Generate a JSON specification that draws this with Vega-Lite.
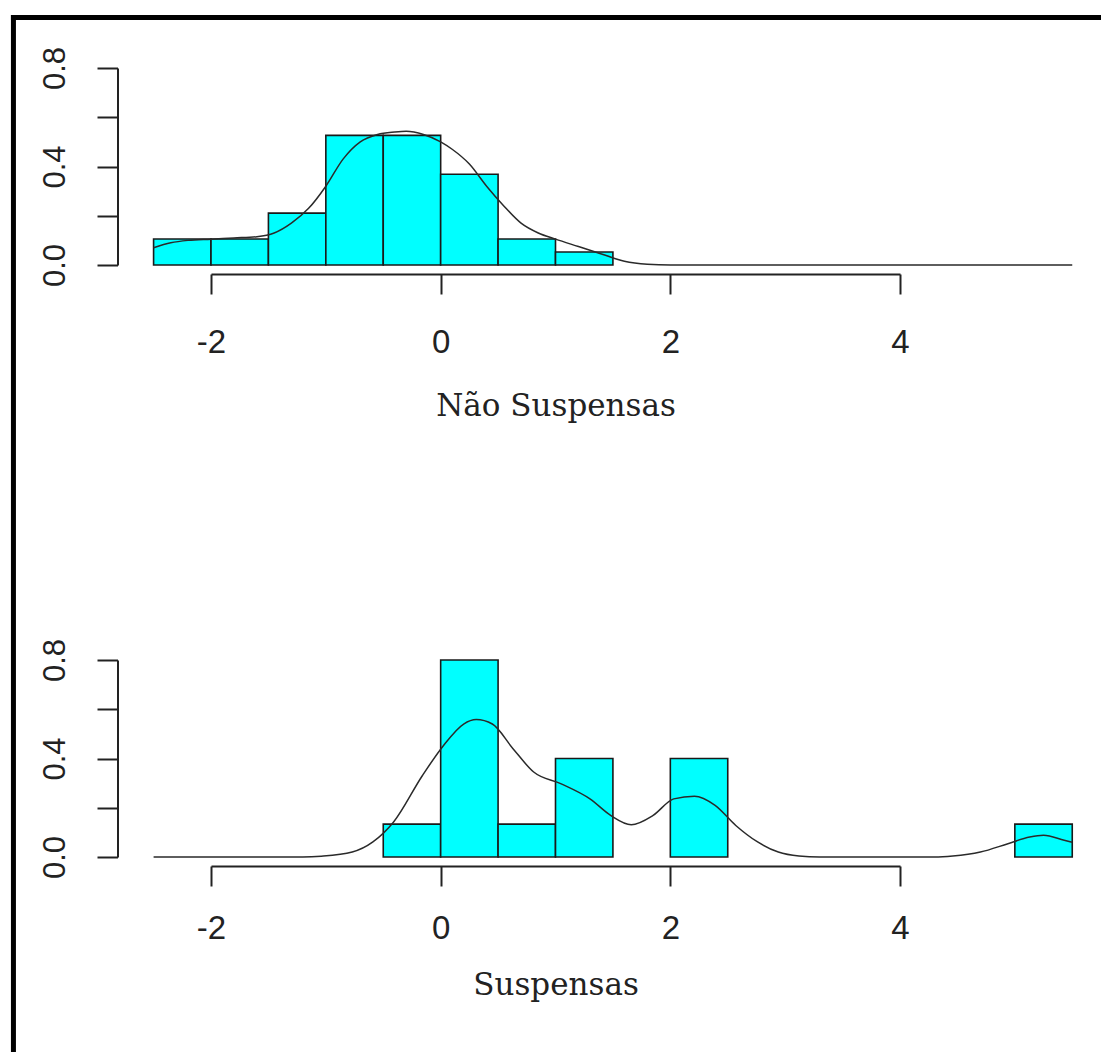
{
  "$schema": "https://vega.github.io/schema/vega-lite/v6.json",
  "padding": {"left": 9, "top": 13, "right": 0, "bottom": 0},
  "background": "white",
  "bounds": "flush",
  "spacing": 395,
  "config": {
    "view": {"stroke": null},
    "axis": {
      "grid": false,
      "domainColor": "#222",
      "domainWidth": 2,
      "tickColor": "#222",
      "tickWidth": 2,
      "labelColor": "#222",
      "labelFont": "Liberation Sans",
      "labelFlush": false,
      "labelOverlap": false,
      "titleFont": "DejaVu Serif",
      "titleFontWeight": "normal",
      "titleColor": "#222"
    }
  },
  "datasets": {
    "hist": [
      {"panel": "top", "xs": -2.5, "xe": -2.0, "y": 0.1053},
      {"panel": "top", "xs": -2.0, "xe": -1.5, "y": 0.1053},
      {"panel": "top", "xs": -1.5, "xe": -1.0, "y": 0.2105},
      {"panel": "top", "xs": -1.0, "xe": -0.5, "y": 0.5263},
      {"panel": "top", "xs": -0.5, "xe": 0.0, "y": 0.5263},
      {"panel": "top", "xs": 0.0, "xe": 0.5, "y": 0.3684},
      {"panel": "top", "xs": 0.5, "xe": 1.0, "y": 0.1053},
      {"panel": "top", "xs": 1.0, "xe": 1.5, "y": 0.0526},
      {"panel": "bottom", "xs": -0.5, "xe": 0.0, "y": 0.1333},
      {"panel": "bottom", "xs": 0.0, "xe": 0.5, "y": 0.8},
      {"panel": "bottom", "xs": 0.5, "xe": 1.0, "y": 0.1333},
      {"panel": "bottom", "xs": 1.0, "xe": 1.5, "y": 0.4},
      {"panel": "bottom", "xs": 2.0, "xe": 2.5, "y": 0.4},
      {"panel": "bottom", "xs": 5.0, "xe": 5.5, "y": 0.1333}
    ],
    "dens": [
      {"panel": "top", "x": -2.5, "y": 0.07},
      {"panel": "top", "x": -2.35, "y": 0.09},
      {"panel": "top", "x": -2.2, "y": 0.1},
      {"panel": "top", "x": -2.0, "y": 0.105},
      {"panel": "top", "x": -1.8, "y": 0.11},
      {"panel": "top", "x": -1.6, "y": 0.115},
      {"panel": "top", "x": -1.45, "y": 0.13},
      {"panel": "top", "x": -1.3, "y": 0.17},
      {"panel": "top", "x": -1.15, "y": 0.23},
      {"panel": "top", "x": -1.0, "y": 0.32},
      {"panel": "top", "x": -0.85, "y": 0.43},
      {"panel": "top", "x": -0.7, "y": 0.5},
      {"panel": "top", "x": -0.55, "y": 0.53},
      {"panel": "top", "x": -0.4, "y": 0.54},
      {"panel": "top", "x": -0.3, "y": 0.543},
      {"panel": "top", "x": -0.15, "y": 0.53},
      {"panel": "top", "x": 0.0, "y": 0.5},
      {"panel": "top", "x": 0.1, "y": 0.47},
      {"panel": "top", "x": 0.25, "y": 0.41},
      {"panel": "top", "x": 0.4, "y": 0.32},
      {"panel": "top", "x": 0.55, "y": 0.24},
      {"panel": "top", "x": 0.7, "y": 0.17},
      {"panel": "top", "x": 0.85, "y": 0.13},
      {"panel": "top", "x": 1.0, "y": 0.105},
      {"panel": "top", "x": 1.2, "y": 0.075},
      {"panel": "top", "x": 1.4, "y": 0.045},
      {"panel": "top", "x": 1.6, "y": 0.015},
      {"panel": "top", "x": 1.8, "y": 0.003},
      {"panel": "top", "x": 2.0, "y": 0.0},
      {"panel": "top", "x": 5.5, "y": 0.0},
      {"panel": "bottom", "x": -2.5, "y": 0.0},
      {"panel": "bottom", "x": -1.2, "y": 0.0},
      {"panel": "bottom", "x": -1.04, "y": 0.003},
      {"panel": "bottom", "x": -0.77, "y": 0.02},
      {"panel": "bottom", "x": -0.59, "y": 0.061},
      {"panel": "bottom", "x": -0.41, "y": 0.142},
      {"panel": "bottom", "x": -0.16, "y": 0.33},
      {"panel": "bottom", "x": 0.02, "y": 0.45},
      {"panel": "bottom", "x": 0.2, "y": 0.54},
      {"panel": "bottom", "x": 0.31, "y": 0.558},
      {"panel": "bottom", "x": 0.45, "y": 0.54},
      {"panel": "bottom", "x": 0.63, "y": 0.44},
      {"panel": "bottom", "x": 0.81, "y": 0.345},
      {"panel": "bottom", "x": 1.05, "y": 0.297},
      {"panel": "bottom", "x": 1.3, "y": 0.236},
      {"panel": "bottom", "x": 1.48, "y": 0.169},
      {"panel": "bottom", "x": 1.66, "y": 0.131},
      {"panel": "bottom", "x": 1.85, "y": 0.169},
      {"panel": "bottom", "x": 2.03, "y": 0.236},
      {"panel": "bottom", "x": 2.21, "y": 0.247},
      {"panel": "bottom", "x": 2.39, "y": 0.21},
      {"panel": "bottom", "x": 2.57, "y": 0.128},
      {"panel": "bottom", "x": 2.76, "y": 0.061},
      {"panel": "bottom", "x": 2.94, "y": 0.02},
      {"panel": "bottom", "x": 3.12, "y": 0.004},
      {"panel": "bottom", "x": 3.3, "y": 0.0},
      {"panel": "bottom", "x": 4.3, "y": 0.0},
      {"panel": "bottom", "x": 4.46, "y": 0.004},
      {"panel": "bottom", "x": 4.7, "y": 0.02},
      {"panel": "bottom", "x": 4.94, "y": 0.054},
      {"panel": "bottom", "x": 5.13, "y": 0.081},
      {"panel": "bottom", "x": 5.25, "y": 0.088},
      {"panel": "bottom", "x": 5.43, "y": 0.068},
      {"panel": "bottom", "x": 5.5, "y": 0.06}
    ]
  },
  "vconcat": [
    {
      "width": 689,
      "height": 197,
      "layer": [
        {
          "data": {"name": "hist"},
          "transform": [{"filter": "datum.panel == 'top'"}],
          "mark": {"type": "rect", "fill": "#00FFFF", "stroke": "#1a1a1a", "strokeWidth": 1.6},
          "encoding": {
            "x": {
              "field": "xs", "type": "quantitative",
              "scale": {"domain": [-2, 4], "nice": false, "zero": false},
              "axis": {
                "values": [-2, 0, 2, 4], "offset": 9, "tickSize": 20,
                "labelFontSize": 33, "labelPadding": 32,
                "labelExpr": "datum.value < 0 ? '-' + format(-datum.value, 'd') : format(datum.value, 'd')",
                "titleFontSize": 31, "titlePadding": 32
              },
              "title": "Não Suspensas"
            },
            "x2": {"field": "xe"},
            "y": {
              "field": "y", "type": "quantitative",
              "scale": {"domain": [0, 0.8], "nice": false, "zero": false},
              "axis": {
                "values": [0, 0.2, 0.4, 0.6, 0.8], "offset": 93.5, "tickSize": 20.5,
                "labelAngle": 270, "labelAlign": "center", "labelBaseline": "bottom",
                "labelPadding": 26, "labelFontSize": 31,
                "labelExpr": "(datum.value > 0.1 && datum.value < 0.3) || (datum.value > 0.5 && datum.value < 0.7) ? '' : format(datum.value, '.1f')"
              },
              "title": null
            },
            "y2": {"datum": 0}
          }
        },
        {
          "data": {"name": "dens"},
          "transform": [{"filter": "datum.panel == 'top'"}],
          "mark": {"type": "line", "color": "#2a2a2a", "strokeWidth": 1.5, "interpolate": "monotone"},
          "encoding": {
            "x": {"field": "x", "type": "quantitative"},
            "y": {"field": "y", "type": "quantitative"}
          }
        },
        {
          "data": {"values": [{}]},
          "mark": {"type": "rule", "color": "black", "strokeWidth": 5, "strokeCap": "square"},
          "encoding": {
            "x": {"datum": -3.7204},
            "x2": {"datum": 5.748},
            "y": {"datum": 1.0051}
          }
        },
        {
          "data": {"values": [{}]},
          "mark": {"type": "rule", "color": "black", "strokeWidth": 5, "strokeCap": "square"},
          "encoding": {
            "x": {"datum": -3.7204},
            "y": {"datum": 1.0051},
            "y2": {"datum": -3.194}
          }
        }
      ]
    },
    {
      "width": 689,
      "height": 197,
      "layer": [
        {
          "data": {"name": "hist"},
          "transform": [{"filter": "datum.panel == 'bottom'"}],
          "mark": {"type": "rect", "fill": "#00FFFF", "stroke": "#1a1a1a", "strokeWidth": 1.6},
          "encoding": {
            "x": {
              "field": "xs", "type": "quantitative",
              "scale": {"domain": [-2, 4], "nice": false, "zero": false},
              "axis": {
                "values": [-2, 0, 2, 4], "offset": 9, "tickSize": 20,
                "labelFontSize": 33, "labelPadding": 26,
                "labelExpr": "datum.value < 0 ? '-' + format(-datum.value, 'd') : format(datum.value, 'd')",
                "titleFontSize": 31, "titlePadding": 25
              },
              "title": "Suspensas"
            },
            "x2": {"field": "xe"},
            "y": {
              "field": "y", "type": "quantitative",
              "scale": {"domain": [0, 0.8], "nice": false, "zero": false},
              "axis": {
                "values": [0, 0.2, 0.4, 0.6, 0.8], "offset": 93.5, "tickSize": 20.5,
                "labelAngle": 270, "labelAlign": "center", "labelBaseline": "bottom",
                "labelPadding": 26, "labelFontSize": 31,
                "labelExpr": "(datum.value > 0.1 && datum.value < 0.3) || (datum.value > 0.5 && datum.value < 0.7) ? '' : format(datum.value, '.1f')"
              },
              "title": null
            },
            "y2": {"datum": 0}
          }
        },
        {
          "data": {"name": "dens"},
          "transform": [{"filter": "datum.panel == 'bottom'"}],
          "mark": {"type": "line", "color": "#2a2a2a", "strokeWidth": 1.5, "interpolate": "monotone"},
          "encoding": {
            "x": {"field": "x", "type": "quantitative"},
            "y": {"field": "y", "type": "quantitative"}
          }
        }
      ]
    }
  ]
}
